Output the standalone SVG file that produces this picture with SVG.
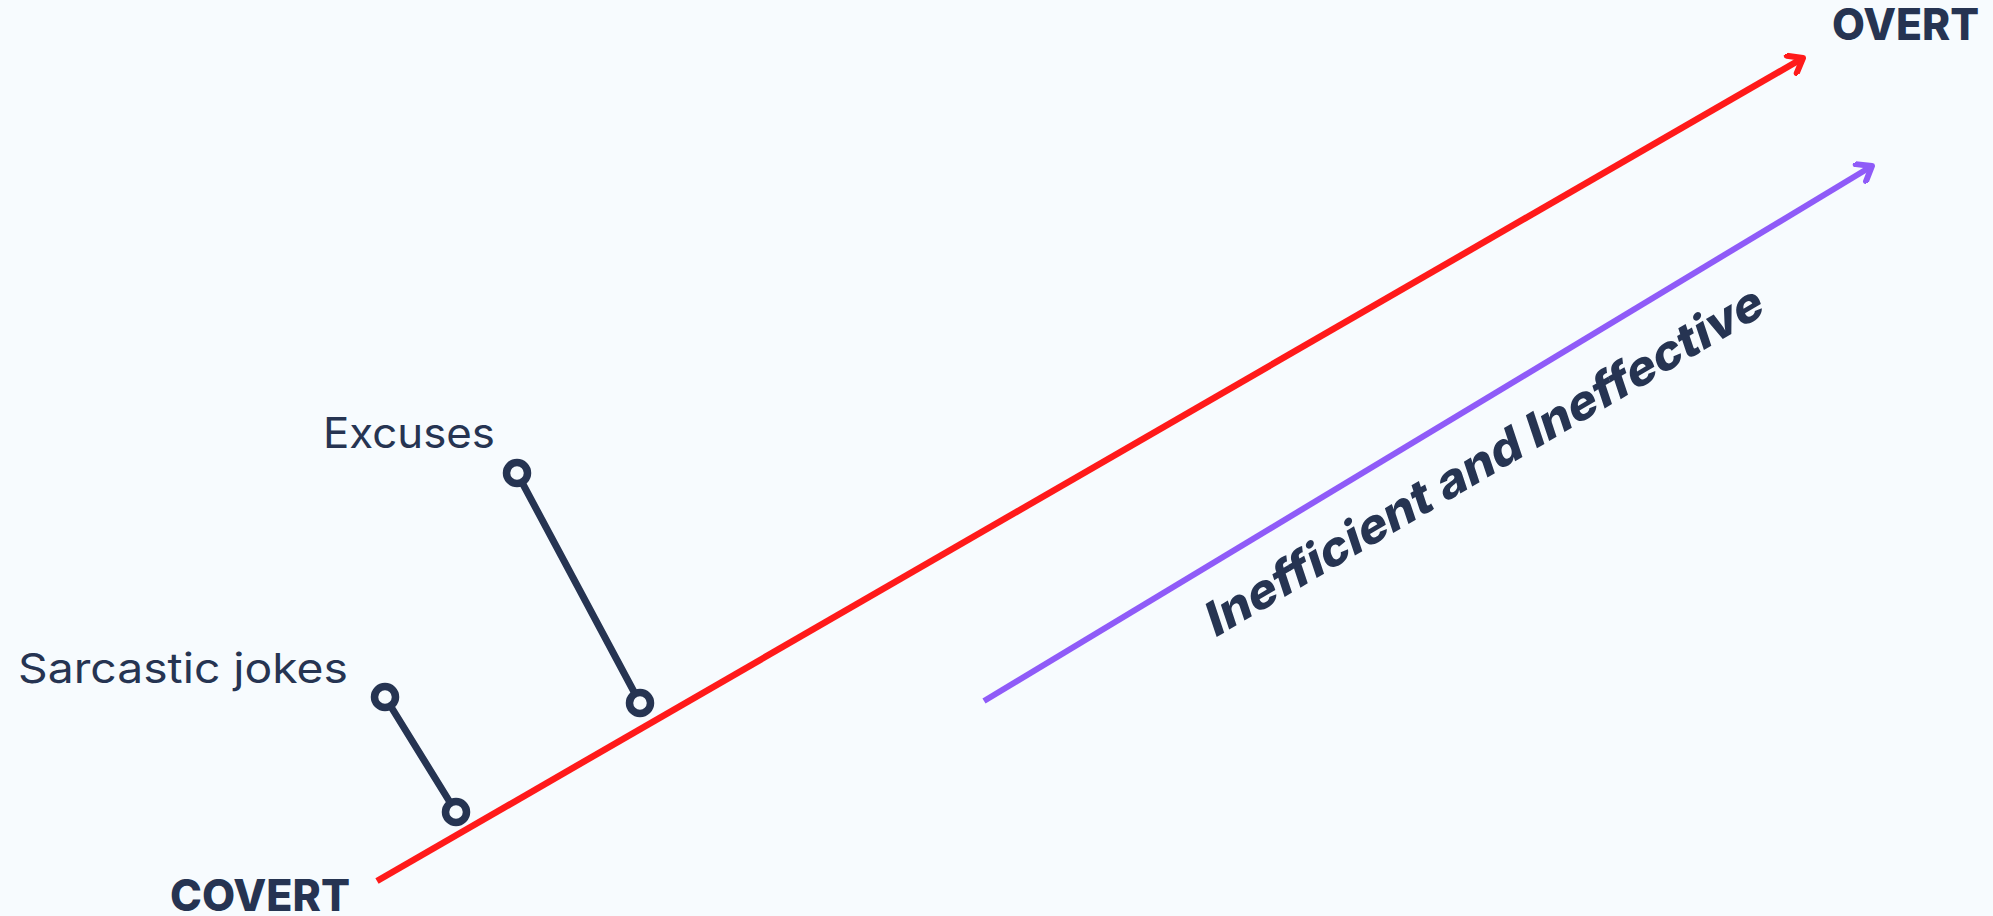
<svg xmlns="http://www.w3.org/2000/svg" width="1993" height="916" viewBox="0 0 1993 916">
<defs>
<style>
.lbl{font-family:Inter,"Open Sans","Liberation Sans",sans-serif;fill:#263452;font-variant-ligatures:none}
.bold{font-weight:800}
.reg{font-weight:400}
.pin{stroke:#263452;stroke-width:7;fill:none;stroke-linecap:round}
.dot{stroke:#263452;stroke-width:7.5;fill:#F7FBFE}
</style>
<marker id="arrRed" viewBox="0 0 24 24" refX="17" refY="12" markerWidth="24" markerHeight="24" markerUnits="userSpaceOnUse" orient="auto">
<path d="M4,2 L17,12 L4,22" fill="none" stroke="#FF1A1A" stroke-width="6" stroke-linecap="round" stroke-linejoin="round"/>
</marker>
<marker id="arrPur" viewBox="0 0 24 24" refX="17" refY="12" markerWidth="24" markerHeight="24" markerUnits="userSpaceOnUse" orient="auto">
<path d="M4,2 L17,12 L4,22" fill="none" stroke="#8F5BF8" stroke-width="6" stroke-linecap="round" stroke-linejoin="round"/>
</marker>
</defs>
<rect width="1993" height="916" fill="#F7FBFE"/>
<g id="connectors">
<line x1="377" y1="881" x2="1803" y2="58" stroke="#FF1A1A" stroke-width="6.5" marker-end="url(#arrRed)"/>
<line x1="984" y1="701" x2="1872" y2="166" stroke="#8F5BF8" stroke-width="6" marker-end="url(#arrPur)"/>
<line class="pin" x1="517" y1="473" x2="640" y2="703"/>
<line class="pin" x1="385" y1="697" x2="456" y2="812"/>
</g>
<g id="overt"><text class="lbl bold" x="1832" y="40" font-size="44" textLength="147" lengthAdjust="spacingAndGlyphs">OVERT</text></g>
<g id="covert"><text class="lbl bold" x="170" y="911" font-size="44" textLength="180" lengthAdjust="spacingAndGlyphs">COVERT</text></g>
<g id="excuses">
<text class="lbl reg" x="323" y="448" font-size="42" textLength="172" lengthAdjust="spacingAndGlyphs">Excuses</text>
<circle class="dot" cx="517" cy="473" r="10.5"/>
<circle class="dot" cx="640" cy="703" r="10.5"/>
</g>
<g id="sarcastic">
<text class="lbl reg" x="18" y="683" font-size="41" textLength="330" lengthAdjust="spacingAndGlyphs">Sarcastic jokes</text>
<circle class="dot" cx="385" cy="697" r="10.5"/>
<circle class="dot" cx="456" cy="812" r="10.5"/>
</g>
<g id="inefficient">
<text class="lbl bold" font-size="47" text-anchor="middle" transform="translate(1490,476) rotate(-30.5) skewX(-12)" textLength="640" lengthAdjust="spacingAndGlyphs">Inefficient and Ineffective</text>
</g>
</svg>
